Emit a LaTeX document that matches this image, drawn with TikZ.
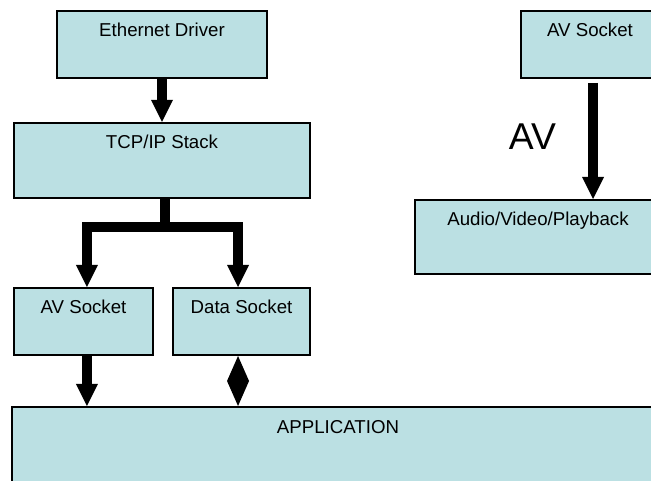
\documentclass[tikz,border=0pt]{standalone}
\usepackage{fontspec}
\setmainfont{Liberation Sans}
\usetikzlibrary{arrows.meta,positioning}
\definecolor{boxcyan}{RGB}{187,224,227}

\begin{document}
\begin{tikzpicture}[
x=0.75pt,y=-0.75pt,
box/.style={
  draw,
  fill=boxcyan,
  line width=1.5pt,
  anchor=north west,
  inner sep=0pt,
  text height=19.5pt,
  font=\fontsize{14}{16}\selectfont
},
pipe/.style={
  line width=7.5pt,
  -{Triangle[length=16.5pt,width=16.5pt,line width=0pt]}
},
twoway/.style={
  line width=7.5pt,
  {Triangle[length=18.75pt,width=16.5pt,line width=0pt]}-{Triangle[length=18.75pt,width=16.5pt,line width=0pt]}
}
]
\useasboundingbox (0,0) rectangle (651,481);
\clip (0,0) rectangle (651,481);

% left stack
\node[box,minimum width=157.5pt,text depth=30.75pt] (eth) at (56,10) {Ethernet Driver};
\node[box,minimum width=222pt,text depth=36.75pt] (tcp) at (13,122) {TCP/IP Stack};
\node[box,minimum width=104.25pt,text depth=30.75pt] (avl) at (13,287) {AV Socket};
\node[box,minimum width=102.75pt,text depth=30.75pt] (data) at (172,287) {Data Socket};
\node[box,minimum width=489pt,text height=20.25pt,text depth=62.25pt] (app) at (11,406) {APPLICATION};

% right side
\node[box,minimum width=103.5pt,text depth=30.75pt] (avr) at (520,10) {AV Socket};
\node[box,minimum width=184.5pt,text depth=36pt] (play) at (414,199) {Audio/Video/Playback};

\draw[pipe] (eth.south) -- (eth.south |- tcp.north);

\coordinate (split) at (165,227);
\draw[pipe] (tcp.south -| split) -- (split) -| ([xshift=2.6pt]avl.north);
\draw[pipe] (tcp.south -| split) -- (split) -| ([xshift=-2.6pt]data.north);

\draw[pipe] ([xshift=2.6pt]avl.south) -- ([xshift=2.6pt]avl.south |- app.north);
\draw[twoway] ([xshift=-2.6pt]data.south) -- ([xshift=-2.6pt]data.south |- app.north);

\draw[pipe] ([xshift=2.25pt,yshift=-3pt]avr.south) -- ([xshift=2.25pt]avr.south |- play.north)
  node[pos=0.46,left=24pt,inner sep=0pt,font=\fontsize{28}{32}\selectfont] (avlabel) {AV};
\end{tikzpicture}
\end{document}
